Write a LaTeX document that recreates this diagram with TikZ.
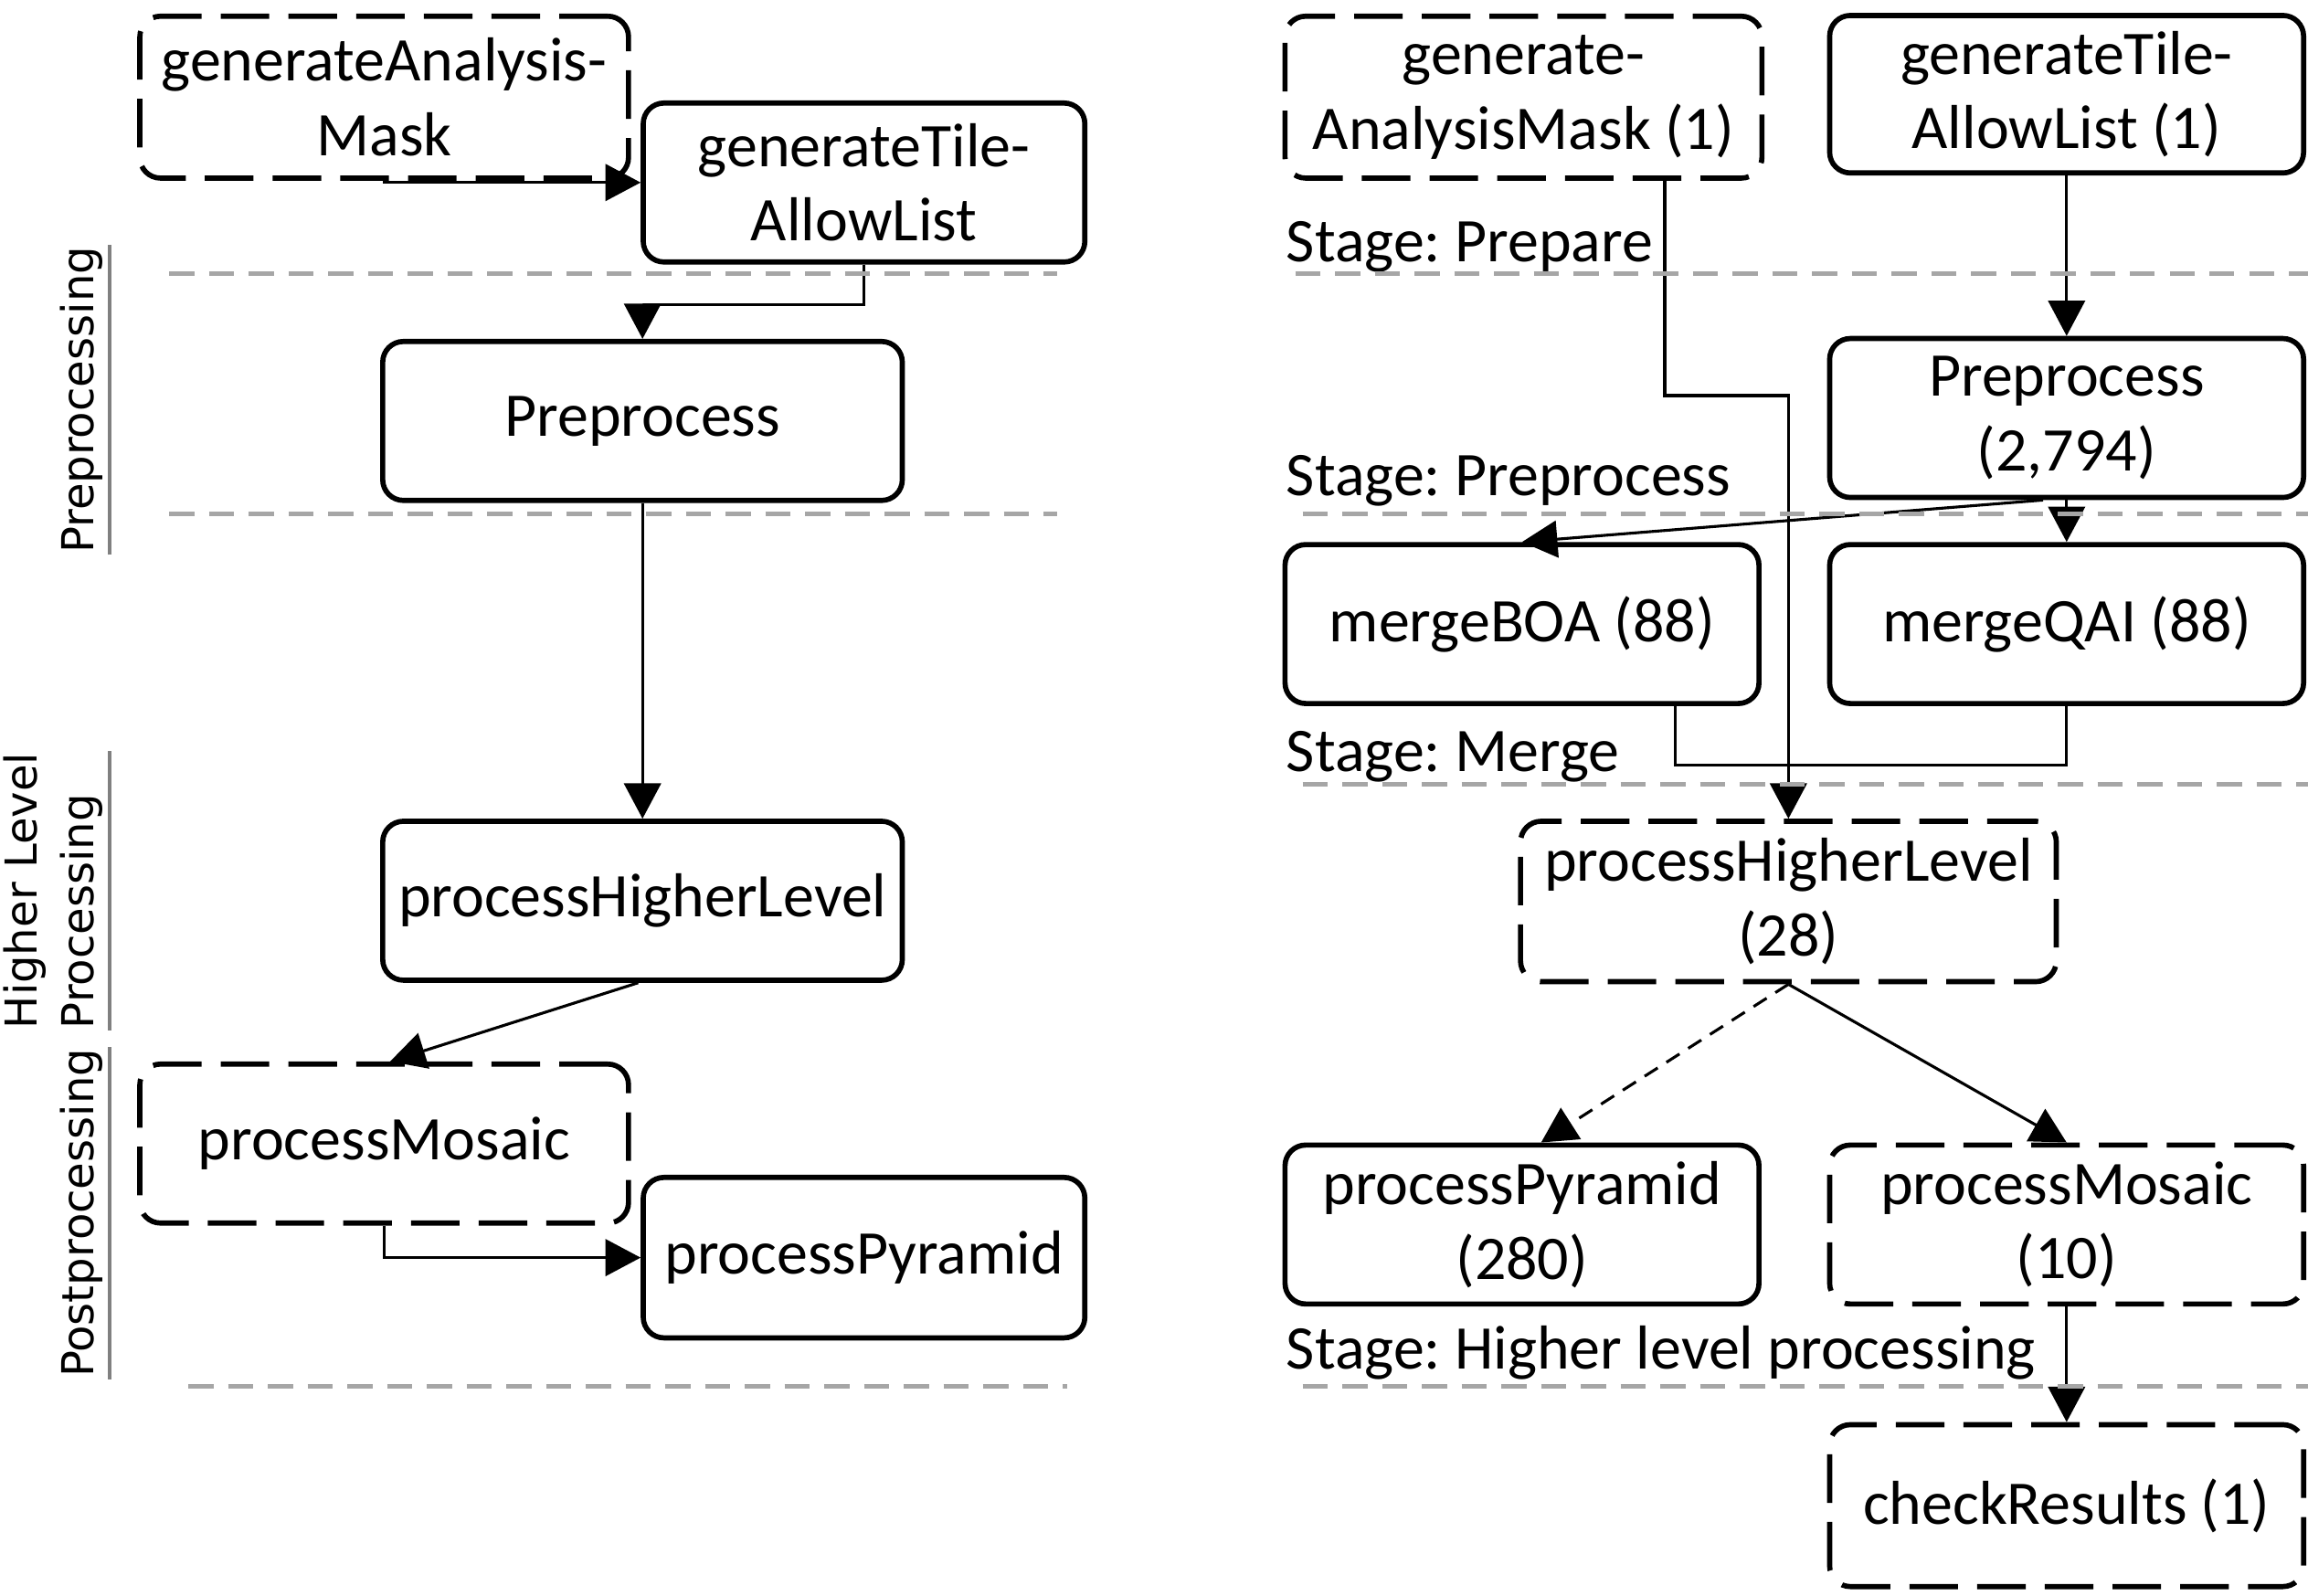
\documentclass[tikz,border=0pt]{standalone}
\usepackage{fontspec}
\setmainfont{Carlito}
\newfontfamily\sidefont{DejaVu Sans}
\frenchspacing
\usetikzlibrary{arrows.meta, positioning}
\definecolor{sepgrey}{HTML}{A6A6A6}
\definecolor{sidegrey}{HTML}{808080}
\tikzset{
  every picture/.style={line width=0.55pt},
  box/.style={draw, line width=1pt, rounded corners=4pt, align=center, inner sep=2pt,
              font=\fontsize{12}{14.4}\selectfont, minimum width=3.22cm, minimum height=1.08cm},
  dashbox/.style={box, dash pattern=on 3.3mm off 1.3mm},
  arrow/.style={-{Triangle[length=2.4mm, width=2.5mm]}},
  sep/.style={draw=sepgrey, line width=0.9pt, dash pattern=on 1.7mm off 1mm},
  stage/.style={anchor=base west, inner sep=0pt, font=\fontsize{12}{14.4}\selectfont},
  side/.style={rotate=90, anchor=south west, inner sep=0pt, align=left,
               font=\sidefont\fontsize{8.5}{11}\selectfont},
  sideline/.style={draw=sidegrey, line width=0.6pt},
}

\begin{document}
\begin{tikzpicture}
  \useasboundingbox (0,0) rectangle (15.68,-10.84);
  % left: the phases of the workflow
  \node[dashbox, minimum width=3.32cm, minimum height=1.10cm] (lMask) at (2.61,-0.66) {generateAnalysis-\\Mask};
  \node[box, minimum width=3.00cm] (lTile) at (5.87,-1.24) {generateTile-\\AllowList};
  \node[box, minimum width=3.53cm] (lPre) at (4.365,-2.86) {Preprocess};
  \node[box, minimum width=3.53cm] (lHigher) at (4.365,-6.12) {processHigherLevel};
  \node[dashbox, minimum width=3.32cm] (lMosaic) at (2.61,-7.77) {processMosaic};
  \node[box, minimum width=3.00cm, minimum height=1.09cm] (lPyramid) at (5.87,-8.545) {processPyramid};
  \draw[arrow] (lMask.south) |- (lTile.west);
  \draw[arrow] (lTile.south) -- ++(0,-0.27) -| (lPre.north);
  \draw[arrow] (lPre.south) -- (lHigher.north);
  \draw[arrow] ([xshift=-0.03cm]lHigher.south) -- ([xshift=0.04cm]lMosaic.north);
  \draw[arrow] (lMosaic.south) |- (lPyramid.west);
  \draw[sep] (1.15,-1.86) -- (7.18,-1.86);
  \draw[sep] (1.15,-3.49) -- (7.18,-3.49);
  \draw[sep] (1.28,-9.42) -- (7.25,-9.42);
  \node[side] (sidePre) at (0.71,-3.77) {Preprocessing};
  \node[side] (sideHigher) at (0.71,-7.00) {Higher Level\\Processing};
  \node[side] (sidePost) at (0.71,-9.37) {Postprocessing};
  \foreach \n in {sidePre, sideHigher, sidePost}
    \draw[sideline] ([xshift=0.35mm]\n.south west) -- ([xshift=0.35mm]\n.south east);

  % right: the jobs per stage, with counts
  \node[dashbox, minimum width=3.24cm, minimum height=1.10cm] (rMask) at (10.35,-0.66) {generate-\\AnalysisMask (1)};
  \node[box, minimum height=1.07cm] (rTile) at (14.04,-0.64) {generateTile-\\AllowList (1)};
  \node[box] (rPre) at (14.04,-2.84) {Preprocess\\(2,794)};
  \node[box] (rBOA) at (10.34,-4.24) {mergeBOA (88)};
  \node[box] (rQAI) at (14.04,-4.24) {mergeQAI (88)};
  \node[dashbox, minimum width=3.64cm, minimum height=1.09cm] (rHigher) at (12.15,-6.125) {processHigherLevel\\(28)};
  \node[box] (rPyramid) at (10.34,-8.32) {processPyramid\\(280)};
  \node[dashbox] (rMosaic) at (14.04,-8.32) {processMosaic\\(10)};
  \node[dashbox, minimum height=1.10cm] (rCheck) at (14.04,-10.23) {checkResults (1)};
  \draw[arrow] ([xshift=0.96cm]rMask.south) -- ++(0,-1.46) -| (rHigher.north);
  \draw[arrow] (rTile.south) -- (rPre.north);
  \draw[arrow] ([xshift=-0.16cm]rPre.south) -- (rBOA.north);
  \draw[arrow] (rPre.south) -- (rQAI.north);
  \draw ([xshift=1.04cm]rBOA.south) -- ++(0,-0.40) -| (rQAI.south);
  \draw[arrow, densely dashed] (rHigher.south) -- ([xshift=0.13cm]rPyramid.north);
  \draw[arrow] (rHigher.south) -- (rMosaic.north);
  \draw[arrow] (rMosaic.south) -- (rCheck.north);
  \node[stage] (stPrepare) at (8.73,-1.78) {Stage: Prepare};
  \node[stage] (stPre) at (8.73,-3.37) {Stage: Preprocess};
  \node[stage] (stMerge) at (8.73,-5.24) {Stage: Merge};
  \node[stage] (stHigher) at (8.73,-9.30) {Stage: Higher level processing};
  \draw[sep] (8.80,-1.86) -- (15.68,-1.86);
  \draw[sep] (8.85,-3.49) -- (15.68,-3.49);
  \draw[sep] (8.85,-5.33) -- (15.68,-5.33);
  \draw[sep] (8.85,-9.42) -- (15.68,-9.42);
\end{tikzpicture}
\end{document}
